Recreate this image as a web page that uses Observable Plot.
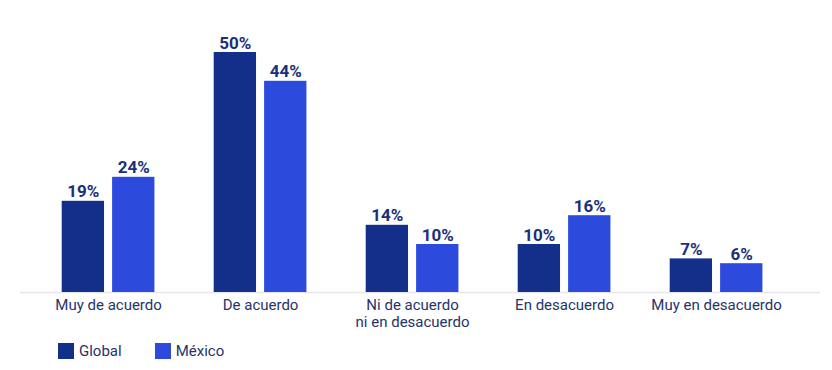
<!DOCTYPE html>
<html>
<head>
<meta charset="utf-8">
<script src="https://cdn.jsdelivr.net/npm/d3@7"></script>
<script src="https://cdn.jsdelivr.net/npm/@observablehq/plot@0.6"></script>
<style>
  html, body { margin: 0; padding: 0; background: #fff; }
  body { width: 832px; height: 370px; overflow: hidden; font-family: Roboto, sans-serif; }
  #legend { display: flex; align-items: center; padding-left: 58px; padding-top: 12px; font-size: 15px; color: #26346a; }
  .item { display: flex; align-items: center; margin-right: 33px; }
  .sw { width: 16px; height: 16px; margin-right: 5px; }
</style>
</head>
<body>
<div id="chart"></div>
<div id="legend"></div>
<script>
const categories = ["Muy de acuerdo", "De acuerdo", "Ni de acuerdo\nni en desacuerdo", "En desacuerdo", "Muy en desacuerdo"];
const series = ["Global", "México"];
const globalValues = [19, 50, 14, 10, 7];
const mexicoValues = [24, 44, 10, 16, 6];
const colors = ["#142f8a", "#2c4bdc"];

const rows = [];
categories.forEach((c, i) => {
  rows.push({category: c, series: "Global", value: globalValues[i]});
  rows.push({category: c, series: "México", value: mexicoValues[i]});
});
const gRows = rows.filter(d => d.series === "Global");
const mRows = rows.filter(d => d.series === "México");

const inset = 50.4, off = 25.2;
const labelStyle = {fontFamily: "Roboto, sans-serif", fontWeight: 700, fontSize: 17, fill: "#1b2f7d", lineAnchor: "bottom"};

const chart = Plot.plot({
  width: 832,
  height: 330,
  marginLeft: 20,
  marginRight: 12,
  marginTop: 52,
  marginBottom: 38,
  style: {fontFamily: "Roboto, sans-serif", background: "#fff"},
  x: {type: "band", domain: categories, paddingInner: 0.39, paddingOuter: 0.3266, align: 0.42, round: false, label: null},
  y: {domain: [0, 50], axis: null},
  marks: [
    Plot.ruleY([0], {stroke: "#e4e6ec", strokeWidth: 1.5}),
    Plot.barY(gRows, {x: "category", y: "value", fill: colors[0], insetRight: inset}),
    Plot.barY(mRows, {x: "category", y: "value", fill: colors[1], insetLeft: inset}),
    Plot.text(gRows, {x: "category", y: "value", text: d => d.value + "%", dx: -off, dy: -4, ...labelStyle}),
    Plot.text(mRows, {x: "category", y: "value", text: d => d.value + "%", dx: off, dy: -4, ...labelStyle}),
    Plot.axisX({tickSize: 0, tickPadding: 5, fontSize: 15, fill: "#26346a", lineHeight: 1.15, label: null})
  ]
});
document.getElementById("chart").appendChild(chart);

const legend = document.getElementById("legend");
series.forEach((s, i) => {
  const item = document.createElement("div");
  item.className = "item";
  const sw = document.createElement("div");
  sw.className = "sw";
  sw.style.background = colors[i];
  const t = document.createElement("span");
  t.textContent = s;
  item.appendChild(sw);
  item.appendChild(t);
  legend.appendChild(item);
});
</script>
</body>
</html>
